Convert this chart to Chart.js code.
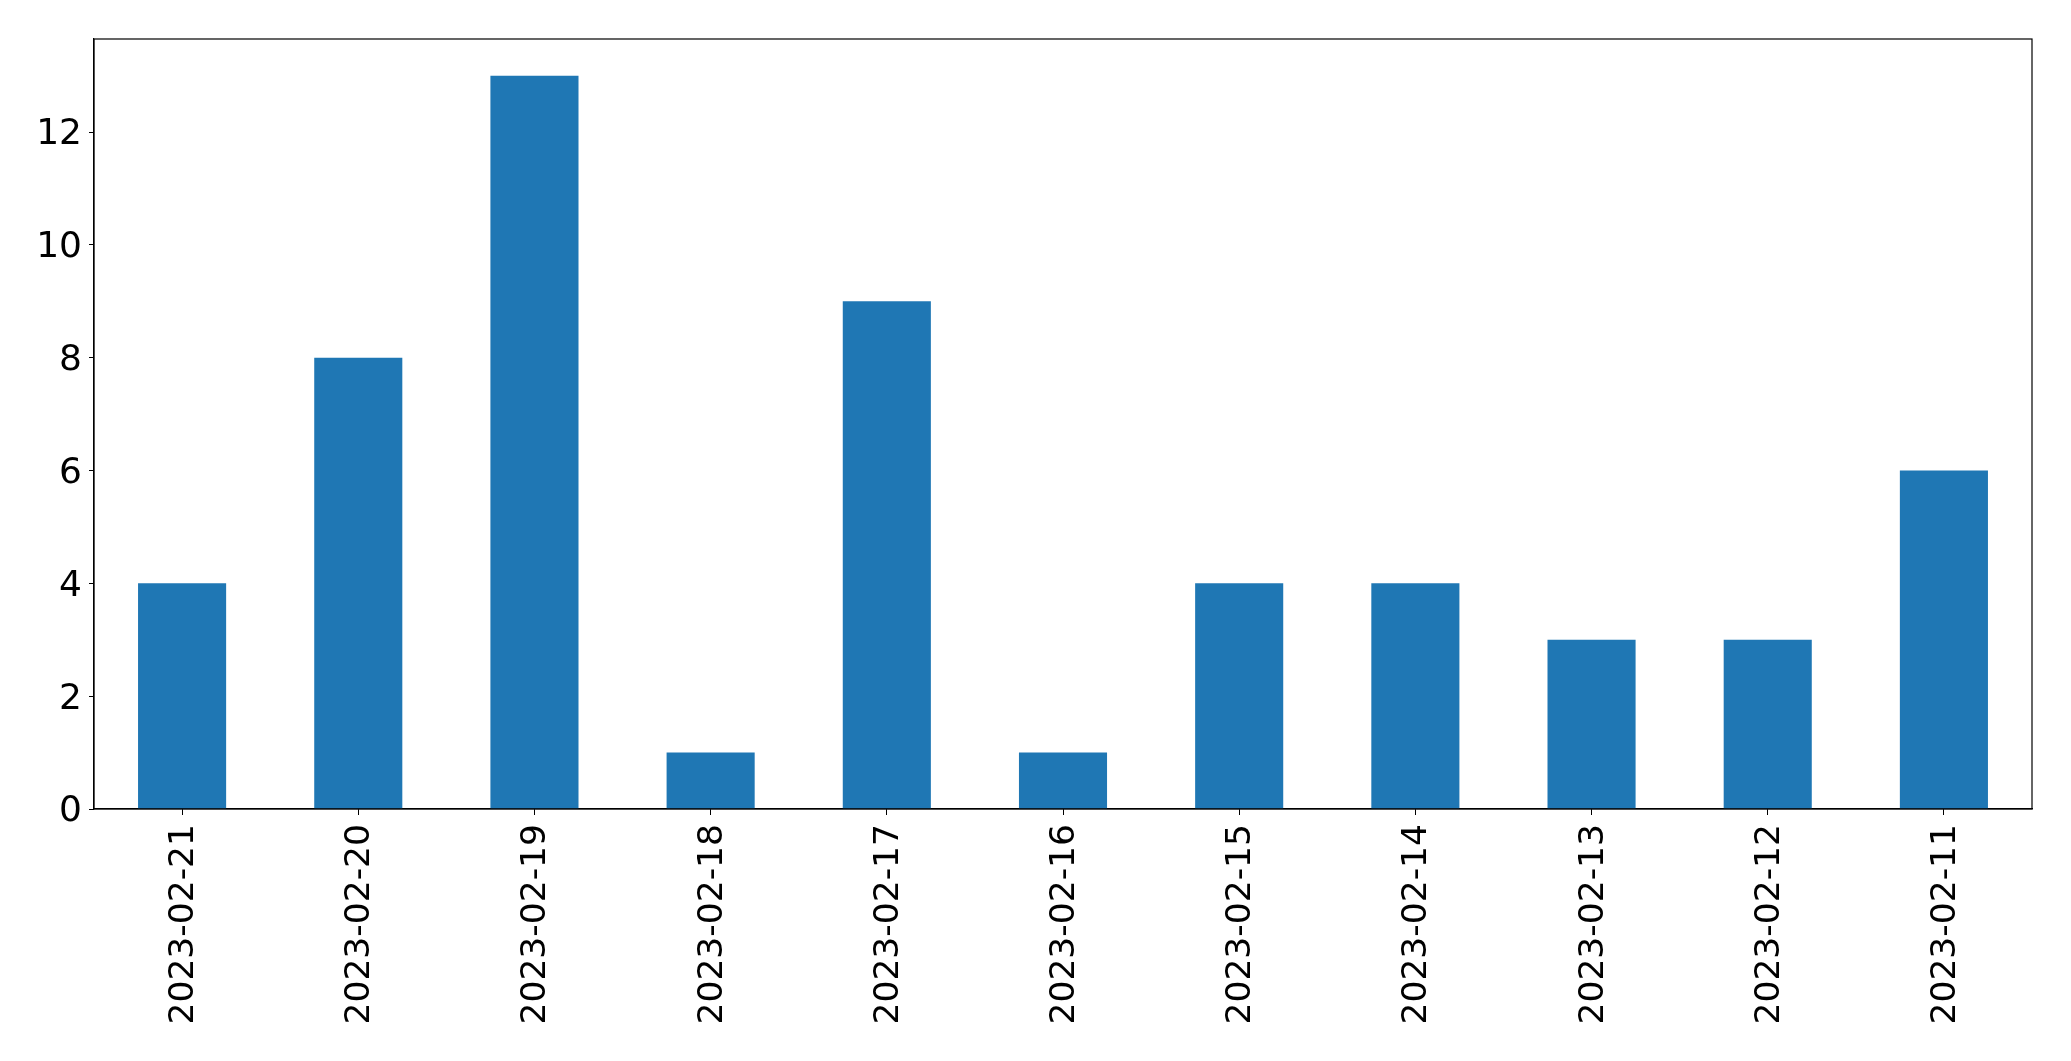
<!DOCTYPE html>
<html>
<head>
<meta charset="utf-8">
<script src="https://cdn.jsdelivr.net/npm/chart.js@4"></script>
<style>
  html, body { margin: 0; padding: 0; background: #fff; }
  #wrap { width: 2071px; height: 1061px; }
</style>
</head>
<body>
<div id="wrap"><canvas id="chart" width="2071" height="1061"></canvas></div>
<script>
// data
const dates = ['2023-02-21', '2023-02-20', '2023-02-19', '2023-02-18', '2023-02-17', '2023-02-16',
    '2023-02-15', '2023-02-14', '2023-02-13', '2023-02-12', '2023-02-11'];
const counts = [4, 8, 13, 1, 9, 1, 4, 4, 3, 3, 6];
const yTicks = [0, 2, 4, 6, 8, 10, 12];

const FAMILY = '"DejaVu Sans", sans-serif';

// matplotlib style frame round the axes
const frame = {
    id: 'frame',
    afterDraw(chart) {
        const {ctx, chartArea: a} = chart;
        ctx.save();
        ctx.strokeStyle = '#000';
        ctx.lineWidth = 1.2;
        ctx.strokeRect(a.left, a.top, a.right - a.left, a.bottom - a.top);
        ctx.restore();
    }
};

new Chart(document.getElementById('chart'), {
    type: 'bar',
    data: {
        labels: dates,
        datasets: [{
            data: counts,
            backgroundColor: '#1f77b4',
            borderWidth: 0,
            categoryPercentage: 1,
            barPercentage: 0.5
        }]
    },
    options: {
        responsive: false,
        animation: false,
        layout: {padding: {top: 39, right: 39, left: 0, bottom: 0}},
        plugins: {legend: {display: false}, tooltip: {enabled: false}},
        scales: {
            x: {
                offset: true,
                grid: {display: true, offset: false, drawOnChartArea: false, drawTicks: true, tickLength: 6, color: '#000'},
                border: {display: true, color: '#000', width: 1.2},
                ticks: {color: '#000', font: {family: FAMILY, size: 34.5}, minRotation: 90, maxRotation: 90,
                    padding: 9, labelOffset: 2, autoSkip: false},
                afterFit(scale) { scale.height = 252; }
            },
            y: {
                min: 0,
                max: 13.65,
                grid: {display: true, drawOnChartArea: false, drawTicks: true, tickLength: 5, color: '#000'},
                border: {display: true, color: '#000', width: 1.2},
                ticks: {color: '#000', font: {family: FAMILY, size: 36}, padding: 7, labelOffset: 3},
                afterBuildTicks(scale) { scale.ticks = yTicks.map(v => ({value: v})); },
                afterFit(scale) { scale.width = 94; }
            }
        }
    },
    plugins: [frame]
});
</script>
</body>
</html>
